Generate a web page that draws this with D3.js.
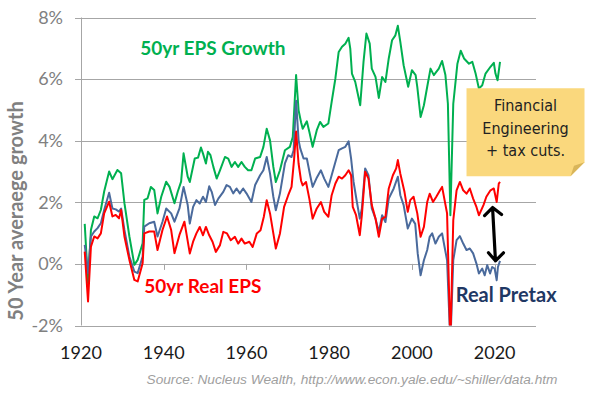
<!DOCTYPE html>
<html>
<head>
  <meta charset="utf-8">
  <title>50 year average EPS growth</title>
  <script src="https://d3js.org/d3.v7.min.js"></script>
  <style>
    body { margin: 0; background: #fff; }
    svg { display: block; font-family: Lato, "Open Sans", sans-serif; }
    .grid line { stroke: #a6a6a6; stroke-width: 1; }
    .ylab { fill: #808080; font-size: 18px; }
    .xlab { fill: #1a1a1a; font-size: 18px; }
    .series { fill: none; stroke-width: 2; stroke-linejoin: round; }
  </style>
</head>
<body>
<svg id="chart" width="591" height="395"></svg>
<script>
// 50yr EPS growth (nominal), % per year  [year, value]
var epsGrowth = [
  [1920.9, 1.30], [1921.7, -0.63], [1922.4, 1.10], [1923.2, 1.54], [1924.0, 1.48], [1924.8, 1.75],
  [1925.6, 2.35], [1926.8, 3.00], [1927.6, 2.75], [1928.8, 3.05], [1929.7, 2.94], [1930.5, 1.97],
  [1931.7, 0.89], [1932.9, -0.03], [1933.7, 0.13], [1934.9, 0.67], [1935.3, 2.08], [1936.1, 2.13],
  [1936.9, 2.50], [1937.7, 2.40], [1938.5, 1.64], [1939.4, 2.18], [1940.6, 2.67], [1941.4, 2.50],
  [1942.6, 1.97], [1943.4, 2.35], [1944.2, 2.67], [1944.8, 3.59], [1945.8, 2.83], [1946.3, 2.66],
  [1947.5, 3.42], [1948.3, 3.45], [1949.0, 3.78], [1949.5, 3.58], [1950.2, 3.26], [1950.7, 3.64],
  [1951.3, 3.53], [1952.0, 3.15], [1952.8, 2.77], [1953.6, 3.04], [1954.8, 3.47], [1955.6, 3.42],
  [1956.4, 3.15], [1957.2, 3.31], [1958.0, 3.15], [1958.8, 3.31], [1959.6, 3.15], [1960.4, 3.04],
  [1961.2, 3.04], [1962.1, 3.42], [1963.3, 3.47], [1964.1, 3.80], [1964.9, 4.39], [1965.7, 4.01],
  [1966.5, 3.15], [1967.1, 2.66], [1968.1, 3.04], [1969.3, 3.69], [1970.5, 3.80], [1971.2, 4.12],
  [1972.0, 6.13], [1972.6, 4.99], [1973.2, 4.60], [1973.6, 4.39], [1974.6, 4.63], [1975.2, 4.29],
  [1976.0, 3.80], [1977.0, 4.34], [1977.8, 4.61], [1978.6, 4.45], [1979.8, 4.56], [1980.6, 5.26],
  [1981.5, 6.02], [1982.3, 6.88], [1983.1, 7.05], [1983.9, 7.15], [1984.7, 7.34], [1985.1, 6.99],
  [1985.5, 6.18], [1986.3, 5.91], [1987.5, 5.15], [1988.3, 6.56], [1989.0, 7.48], [1989.8, 7.15],
  [1990.3, 6.34], [1991.2, 6.07], [1992.0, 5.39], [1992.8, 6.07], [1993.6, 5.91], [1994.4, 6.67],
  [1995.2, 7.26], [1996.0, 7.42], [1996.6, 7.73], [1997.2, 7.21], [1998.0, 6.45], [1999.1, 5.75],
  [2000.0, 6.29], [2000.9, 6.13], [2001.3, 5.75], [2002.1, 4.77], [2002.9, 5.15], [2003.7, 5.75],
  [2004.5, 6.34], [2005.3, 6.13], [2006.5, 6.34], [2007.3, 6.59], [2008.1, 6.13], [2008.7, 5.20],
  [2009.3, 1.58], [2010.0, 5.20], [2011.0, 6.50], [2011.8, 6.92], [2012.6, 6.67], [2013.8, 6.50],
  [2014.6, 6.56], [2015.4, 6.18], [2016.2, 5.69], [2017.0, 5.80], [2017.8, 6.18], [2019.0, 6.40],
  [2019.8, 6.53], [2020.2, 6.18], [2020.7, 5.96], [2021.3, 6.56]
];

// 50yr real pretax earnings growth
var realPretax = [
  [1920.9, 0.62], [1921.7, -0.30], [1922.4, 0.89], [1923.2, 1.05], [1924.0, 1.16], [1924.8, 1.32],
  [1925.6, 1.75], [1926.8, 2.31], [1927.6, 1.80], [1928.4, 1.77], [1929.2, 1.70], [1929.7, 1.80],
  [1930.5, 1.10], [1931.7, 0.24], [1932.9, -0.25], [1933.7, -0.30], [1934.9, 0.24], [1935.3, 1.21],
  [1936.5, 1.32], [1937.7, 1.37], [1938.5, 0.89], [1939.7, 1.37], [1940.6, 1.80], [1941.8, 1.64],
  [1942.6, 1.37], [1943.8, 1.80], [1944.8, 2.50], [1945.8, 1.91], [1946.3, 1.31], [1947.1, 1.85],
  [1947.9, 2.07], [1948.7, 1.96], [1949.5, 2.18], [1950.2, 2.01], [1951.0, 2.52], [1951.6, 2.34],
  [1952.4, 1.91], [1953.2, 2.12], [1954.4, 2.34], [1955.2, 2.56], [1956.0, 2.50], [1956.8, 2.29],
  [1957.6, 2.45], [1958.4, 2.29], [1959.2, 2.45], [1960.0, 2.29], [1961.2, 2.01], [1962.1, 2.56],
  [1963.3, 2.88], [1964.1, 3.04], [1964.9, 3.47], [1965.7, 2.93], [1966.5, 2.18], [1967.1, 1.74],
  [1968.1, 2.29], [1969.3, 3.26], [1970.1, 3.53], [1970.9, 3.47], [1971.4, 3.69], [1972.0, 5.30],
  [1972.6, 4.02], [1973.0, 3.75], [1973.8, 3.42], [1974.6, 3.42], [1975.4, 2.88], [1976.0, 2.50],
  [1976.9, 2.77], [1978.0, 3.04], [1978.8, 2.77], [1979.8, 2.50], [1980.6, 2.88], [1981.5, 3.31],
  [1982.3, 3.69], [1983.1, 3.75], [1983.9, 3.80], [1984.7, 3.98], [1985.3, 3.42], [1985.9, 2.66],
  [1986.7, 2.01], [1987.4, 1.47], [1987.9, 1.80], [1988.7, 3.10], [1989.5, 2.88], [1990.3, 1.80],
  [1991.2, 1.47], [1992.0, 1.04], [1992.8, 1.58], [1993.6, 1.36], [1994.4, 2.12], [1995.6, 2.45],
  [1996.6, 2.83], [1997.2, 2.23], [1998.0, 1.91], [1999.0, 1.15], [2000.0, 1.47], [2000.8, 1.30],
  [2001.4, 0.34], [2002.1, -0.37], [2002.9, 0.12], [2003.7, 0.45], [2004.3, 0.88], [2004.9, 0.99],
  [2005.7, 0.66], [2006.5, 0.88], [2007.3, 0.99], [2007.9, 0.55], [2008.5, 0.12], [2009.3, -2.60],
  [2010.0, 0.12], [2010.8, 0.77], [2011.6, 0.90], [2012.4, 0.66], [2013.2, 0.45], [2014.0, 0.50],
  [2014.8, 0.34], [2015.6, 0.01], [2016.2, -0.31], [2017.0, -0.15], [2017.6, -0.37], [2018.2, -0.04],
  [2018.9, -0.31], [2019.4, -0.10], [2020.0, -0.15], [2020.5, -0.53], [2020.8, -0.10], [2021.3, 0.10]
];

// 50yr real EPS growth
var realEps = [
  [1920.9, 0.40], [1921.7, -1.22], [1922.4, 0.56], [1923.2, 0.89], [1924.0, 0.83], [1924.8, 0.99],
  [1925.6, 1.64], [1926.8, 2.02], [1927.6, 1.54], [1928.4, 1.59], [1929.2, 1.48], [1929.7, 1.75],
  [1930.5, 0.89], [1931.7, 0.13], [1932.9, -0.52], [1933.7, -0.57], [1934.9, 0.02], [1935.3, 0.99],
  [1936.5, 1.05], [1937.7, 1.05], [1938.5, 0.45], [1939.7, 1.10], [1940.8, 1.54], [1941.8, 1.10],
  [1942.6, 0.35], [1943.8, 0.94], [1945.0, 1.37], [1946.3, 0.34], [1947.1, 0.72], [1947.9, 0.99],
  [1948.7, 1.20], [1949.5, 0.93], [1950.2, 1.20], [1951.0, 0.93], [1951.8, 0.72], [1952.6, 0.39],
  [1953.6, 0.61], [1954.4, 1.04], [1955.3, 0.99], [1956.2, 0.77], [1957.2, 0.88], [1958.0, 0.66],
  [1958.8, 0.82], [1959.6, 0.66], [1960.7, 0.72], [1961.5, 0.55], [1962.5, 0.99], [1963.4, 1.09],
  [1964.2, 1.53], [1964.9, 2.07], [1965.7, 1.64], [1966.5, 0.99], [1967.1, 0.50], [1968.1, 0.99],
  [1969.1, 1.85], [1970.1, 2.23], [1970.9, 2.50], [1971.5, 3.37], [1972.0, 4.30], [1972.6, 3.26],
  [1973.2, 2.70], [1973.6, 2.55], [1974.4, 2.66], [1975.2, 2.12], [1976.0, 1.47], [1977.0, 1.80],
  [1978.0, 2.01], [1978.8, 1.69], [1979.8, 1.53], [1980.6, 2.23], [1981.5, 2.61], [1982.3, 2.83],
  [1983.1, 2.77], [1983.9, 2.88], [1984.7, 3.04], [1985.3, 2.88], [1985.7, 1.85], [1986.5, 1.58],
  [1987.4, 0.93], [1987.9, 1.58], [1988.7, 2.99], [1989.5, 2.77], [1990.3, 1.91], [1991.2, 1.47],
  [1992.0, 0.88], [1992.8, 1.47], [1993.6, 1.53], [1994.4, 2.45], [1995.4, 2.88], [1996.2, 3.10],
  [1996.6, 3.37], [1997.2, 2.93], [1998.2, 2.34], [1999.0, 1.69], [1999.6, 2.07], [2000.4, 2.18],
  [2001.3, 1.64], [2002.1, 0.88], [2002.9, 1.20], [2003.7, 2.01], [2004.3, 2.28], [2005.1, 2.01],
  [2005.9, 2.18], [2006.8, 2.39], [2007.3, 2.50], [2007.9, 2.07], [2008.5, 1.64], [2009.3, -2.60],
  [2010.0, 1.42], [2010.8, 2.39], [2011.6, 2.66], [2012.4, 2.39], [2013.2, 2.28], [2014.0, 2.45],
  [2014.8, 2.12], [2015.6, 1.85], [2016.2, 1.58], [2017.3, 1.91], [2018.0, 2.18], [2019.0, 2.39],
  [2019.8, 2.45], [2020.5, 2.01], [2021.0, 2.61], [2021.3, 2.66]
];

var yTicks = [-2, 0, 2, 4, 6, 8];
var xTicks = [1920, 1940, 1960, 1980, 2000, 2020];
var noteLines = ["Financial", "Engineering", "+ tax cuts."];

var svg = d3.select("#chart");

// plot area
var x = d3.scaleLinear().domain([1920, 2030]).range([81, 536]);
var y = d3.scaleLinear().domain([-2, 8]).range([325.5, 17.5]);

svg.append("defs").append("clipPath").attr("id", "plot")
  .append("rect")
  .attr("x", x(1920)).attr("y", y(8) - 20)
  .attr("width", x(2030) - x(1920)).attr("height", y(-2) - y(8) + 20);

// horizontal gridlines (+ small outside ticks)
var grid = svg.append("g").attr("class", "grid");
grid.selectAll("line.h")
  .data(yTicks)
  .enter().append("line")
  .attr("class", "h")
  .attr("x1", x(1920) - 6).attr("x2", x(2030))
  .attr("y1", function (d) { return Math.round(y(d)) + 0.5; })
  .attr("y2", function (d) { return Math.round(y(d)) + 0.5; });

// vertical axis line
grid.append("line")
  .attr("x1", Math.round(x(1920)) + 0.5).attr("x2", Math.round(x(1920)) + 0.5)
  .attr("y1", y(8)).attr("y2", y(-2));

// x tick marks sit on the 0% line
grid.selectAll("line.xt")
  .data(xTicks)
  .enter().append("line")
  .attr("class", "xt")
  .attr("x1", function (d) { return Math.round(x(d)) + 0.5; })
  .attr("x2", function (d) { return Math.round(x(d)) + 0.5; })
  .attr("y1", y(0)).attr("y2", y(0) + 6);

// y labels
svg.selectAll("text.ylab")
  .data(yTicks)
  .enter().append("text")
  .attr("class", "ylab")
  .attr("x", 63)
  .attr("y", function (d) { return y(d); })
  .attr("dy", "0.35em")
  .attr("text-anchor", "end")
  .text(function (d) { return d + "%"; });

// x labels (at the bottom of the plot)
svg.selectAll("text.xlab")
  .data(xTicks)
  .enter().append("text")
  .attr("class", "xlab")
  .attr("x", function (d) { return x(d); })
  .attr("y", 359)
  .attr("text-anchor", "middle")
  .text(function (d) { return d; });

// y axis title
svg.append("text")
  .attr("transform", "translate(16," + 211 + ") rotate(-90)")
  .attr("text-anchor", "middle")
  .attr("dy", "0.35em")
  .style("font-size", "20px")
  .style("font-weight", "bold")
  .style("fill", "#808080")
  .text("50 Year averaege growth");

// lines
var line = d3.line()
  .x(function (d) { return x(d[0]); })
  .y(function (d) { return y(d[1]); });

var series = [
  { data: epsGrowth, color: "#00b050" },
  { data: realPretax, color: "#4a6a9c" },
  { data: realEps, color: "#ff0000" }
];

svg.append("g").attr("clip-path", "url(#plot)")
  .selectAll("path")
  .data(series)
  .enter().append("path")
  .attr("class", "series")
  .attr("stroke", function (d) { return d.color; })
  .attr("d", function (d) { return line(d.data); });

// series labels
function label(txt, xx, yy, color, size) {
  svg.append("text")
    .attr("x", xx).attr("y", yy)
    .style("font-size", size + "px")
    .style("font-weight", "bold")
    .style("fill", color)
    .text(txt);
}
label("50yr EPS Growth", x(1934.3), 55, "#00b050", 19);
label("50yr Real EPS", x(1935.3), 292.5, "#ff0000", 19);
label("Real Pretax", x(2010.6), 301.5, "#1f3864", 20);

// sticky note
var nx = x(2013.2), ny = y(5.7), nw = 118, nh = 88, fold = 14;
var note = svg.append("g");
note.append("path")
  .attr("d", "M" + nx + "," + ny + "h" + nw + "v" + (nh - fold) +
    "l" + (-fold) + "," + fold + "h" + (-(nw - fold)) + "Z")
  .attr("fill", "#fad87d");
note.append("path")
  .attr("d", "M" + (nx + nw) + "," + (ny + nh - fold) +
    "l" + (-fold) + "," + fold + "l" + (fold * 0.25) + "," + (-fold * 0.75) + "Z")
  .attr("fill", "#d8b55a");
note.selectAll("text")
  .data(noteLines)
  .enter().append("text")
  .attr("x", nx + nw / 2)
  .attr("y", function (d, i) { return ny + 23 + i * 22.5; })
  .attr("text-anchor", "middle")
  .style("font-family", "'DejaVu Sans Condensed', 'DejaVu Sans', sans-serif")
  .style("font-size", "16px")
  .style("fill", "#222")
  .text(function (d) { return d; });

// double headed arrow between real EPS and real pretax
var ax1 = x(2019.5), ay1 = y(1.83), ax2 = x(2020.2), ay2 = y(0.1);
svg.append("path")
  .attr("d", "M" + ax1 + "," + ay1 + "L" + ax2 + "," + ay2 +
    "M" + (ax1 - 8) + "," + (ay1 + 8) + "L" + ax1 + "," + ay1 + "L" + (ax1 + 9) + "," + (ay1 + 7) +
    "M" + (ax2 - 7) + "," + (ay2 - 8) + "L" + ax2 + "," + ay2 + "L" + (ax2 + 8) + "," + (ay2 - 8))
  .attr("fill", "none")
  .attr("stroke", "#000")
  .attr("stroke-width", 3.2)
  .attr("stroke-linecap", "round")
  .attr("stroke-linejoin", "round");

// source
svg.append("text")
  .attr("x", 352).attr("y", 384)
  .attr("text-anchor", "middle")
  .style("font-family", "'Liberation Sans', Arial, sans-serif")
  .style("font-style", "italic")
  .style("font-size", "13.7px")
  .style("fill", "#a0a0a0")
  .text("Source:  Nucleus Wealth, http://www.econ.yale.edu/~shiller/data.htm");
</script>
</body>
</html>
